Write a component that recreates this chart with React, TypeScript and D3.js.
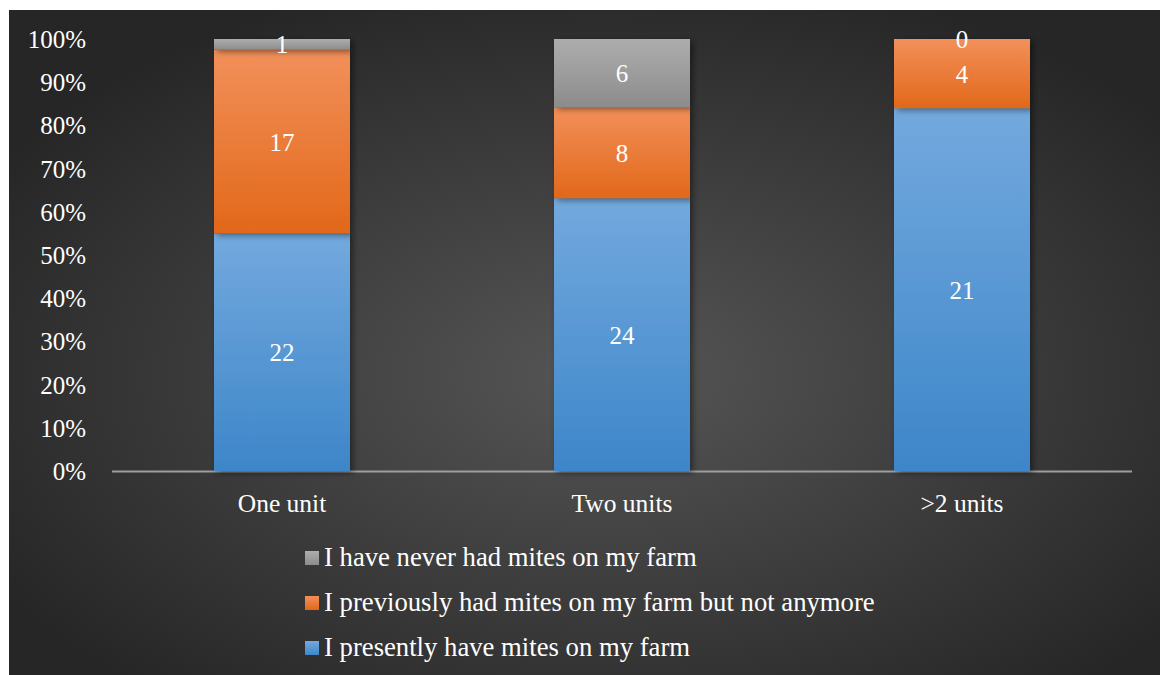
import React from "react";
import * as d3 from "d3";

const categories = ["One unit", "Two units", ">2 units"];
const seriesNames = [
  "I presently have mites on my farm",
  "I previously had mites on my farm but not anymore",
  "I have never had mites on my farm",
];
const presently = [22, 24, 21];
const previously = [17, 8, 4];
const never = [1, 6, 0];
const yTicks = [0, 0.1, 0.2, 0.3, 0.4, 0.5, 0.6, 0.7, 0.8, 0.9, 1.0];

const W = 1161;
const H = 675;
const FONT = "'Liberation Serif', 'Times New Roman', serif";

const grads = [
  { id: "gBlue", top: "#73a9de", bottom: "#3d86c9" },
  { id: "gOrange", top: "#f2905a", bottom: "#e2681a" },
  { id: "gGrey", top: "#adadad", bottom: "#8c8c8c" },
];

export default function App() {
  const left = 112;
  const right = 1132;
  const top = 39;
  const bottom = 471;

  const x = d3
    .scaleBand<string>()
    .domain(categories)
    .range([left, right])
    .paddingInner(0.6)
    .paddingOuter(0.3);
  const y = d3.scaleLinear().domain([0, 1]).range([bottom, top]);

  const rows = categories.map((c, i) => ({
    cat: c,
    v: [presently[i], previously[i], never[i]],
  }));
  const stack = d3
    .stack<any>()
    .keys(["0", "1", "2"])
    .value((d, k) => d.v[+k])
    .offset(d3.stackOffsetExpand);
  const series = stack(rows as any);

  const legendOrder = [2, 1, 0];
  const fmt = d3.format(".0%");

  return (
    <svg
      width={W}
      height={H}
      style={{ position: "absolute", left: 0, top: 0, display: "block" }}
      fontFamily={FONT}
    >
      <defs>
        <radialGradient id="bg" cx="52%" cy="55%" r="62%">
          <stop offset="0%" stopColor="#565656" />
          <stop offset="100%" stopColor="#262626" />
        </radialGradient>
        {grads.map((g) => (
          <linearGradient key={g.id} id={g.id} x1="0" y1="0" x2="0" y2="1">
            <stop offset="0%" stopColor={g.top} />
            <stop offset="100%" stopColor={g.bottom} />
          </linearGradient>
        ))}
        <filter id="shadow" x="-20%" y="-20%" width="140%" height="140%">
          <feDropShadow dx="3" dy="2" stdDeviation="3" floodColor="#000" floodOpacity="0.45" />
        </filter>
      </defs>
      <rect x={0} y={0} width={W} height={H} fill="#ffffff" />
      <rect x={9} y={10} width={W - 10} height={H - 10} fill="url(#bg)" />

      {yTicks.map((t) => (
        <text key={t} x={86} y={y(t) + 9} textAnchor="end" fontSize={25} fill="#ffffff">
          {fmt(t)}
        </text>
      ))}

      <line x1={left} x2={right} y1={bottom + 0.5} y2={bottom + 0.5} stroke="#9e9e9e" strokeWidth={2} />

      {series.map((s, si) => (
        <g key={si} filter="url(#shadow)">
          {s.map((d: any, i: number) => {
            const y0 = y(d[0]);
            const y1 = y(d[1]);
            return (
              <rect
                key={i}
                x={x(categories[i])}
                y={y1}
                width={x.bandwidth()}
                height={Math.max(0, y0 - y1)}
                fill={`url(#${grads[si].id})`}
              />
            );
          })}
        </g>
      ))}

      {series.map((s, si) =>
        s.map((d: any, i: number) => {
          const cy = (y(d[0]) + y(d[1])) / 2;
          return (
            <text
              key={`${si}-${i}`}
              x={(x(categories[i]) as number) + x.bandwidth() / 2}
              y={cy + 9}
              textAnchor="middle"
              fontSize={25}
              fill="#ffffff"
            >
              {rows[i].v[si]}
            </text>
          );
        })
      )}

      {categories.map((c) => (
        <text
          key={c}
          x={(x(c) as number) + x.bandwidth() / 2}
          y={512}
          textAnchor="middle"
          fontSize={25.5}
          fill="#ffffff"
        >
          {c}
        </text>
      ))}

      {legendOrder.map((si, k) => {
        const by = 566 + k * 45;
        return (
          <g key={si}>
            <rect x={305} y={by - 15} width={14} height={14} fill={`url(#${grads[si].id})`} />
            <text x={324} y={by} fontSize={26.7} fill="#ffffff">
              {seriesNames[si]}
            </text>
          </g>
        );
      })}
    </svg>
  );
}
